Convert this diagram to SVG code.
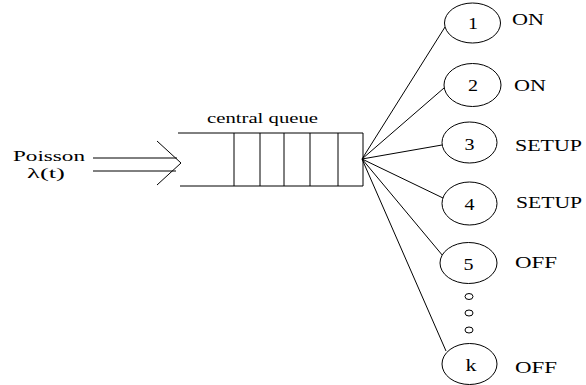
<svg xmlns="http://www.w3.org/2000/svg" width="586" height="385" viewBox="0 0 586 385">
<style>
  .ln { stroke: #000; stroke-width: 1; fill: none; }
  .nd { stroke: #000; stroke-width: 1; fill: #fff; }
  text { font-family: "Times New Roman", "Liberation Serif", Times, serif; font-size: 16px; fill: #000; }
  .d { text-anchor: middle; }
  .s { font-size: 17px; }
</style>
<rect width="586" height="385" fill="#fff"/>
<g id="source">
  <text x="13" y="161" style="font-size:14px" textLength="72" lengthAdjust="spacingAndGlyphs">Poisson</text>
  <text x="27" y="178" style="font-size:14px" textLength="38" lengthAdjust="spacingAndGlyphs">λ(t)</text>
  <line class="ln" x1="93" y1="158" x2="177" y2="158"/>
  <line class="ln" x1="93" y1="171" x2="176" y2="171"/>
  <polyline class="ln" points="157,141 181,163 157,185"/>
</g>
<g id="queue">
  <text x="207" y="123" style="font-size:15px" textLength="111" lengthAdjust="spacingAndGlyphs">central queue</text>
  <line class="ln" x1="178" y1="133" x2="363" y2="133"/>
  <line class="ln" x1="180" y1="186" x2="363" y2="186"/>
  <line class="ln" x1="363" y1="133" x2="363" y2="186"/>
  <line class="ln" x1="234" y1="133" x2="234" y2="186"/>
  <line class="ln" x1="260" y1="133" x2="260" y2="186"/>
  <line class="ln" x1="284" y1="133" x2="284" y2="186"/>
  <line class="ln" x1="310" y1="133" x2="310" y2="186"/>
  <line class="ln" x1="338" y1="133" x2="338" y2="186"/>
</g>
<g id="connectors">
  <line class="ln" x1="362" y1="159" x2="445" y2="27"/>
  <line class="ln" x1="362" y1="159" x2="444" y2="88"/>
  <line class="ln" x1="362" y1="159" x2="442" y2="145"/>
  <line class="ln" x1="362" y1="159" x2="443" y2="198"/>
  <line class="ln" x1="362" y1="159" x2="443" y2="256"/>
  <line class="ln" x1="362" y1="159" x2="446" y2="351"/>
</g>
<g id="server1">
  <ellipse class="nd" cx="472.5" cy="23" rx="28" ry="20"/>
  <text class="d" x="473" y="29" textLength="10" lengthAdjust="spacingAndGlyphs">1</text>
  <text class="s" x="512" y="25" textLength="32" lengthAdjust="spacingAndGlyphs">ON</text>
</g>
<g id="server2">
  <ellipse class="nd" cx="472.5" cy="85" rx="28.5" ry="21.5"/>
  <text class="d" x="473" y="91" textLength="10" lengthAdjust="spacingAndGlyphs">2</text>
  <text class="s" x="514" y="91" textLength="32" lengthAdjust="spacingAndGlyphs">ON</text>
</g>
<g id="server3">
  <ellipse class="nd" cx="469.5" cy="142.5" rx="27.5" ry="20.5"/>
  <text class="d" x="469.5" y="150" textLength="10" lengthAdjust="spacingAndGlyphs">3</text>
  <text class="s" x="515" y="151" textLength="67" lengthAdjust="spacingAndGlyphs">SETUP</text>
</g>
<g id="server4">
  <ellipse class="nd" cx="469.5" cy="203.5" rx="27.5" ry="21.5"/>
  <text class="d" x="469.5" y="210" textLength="10" lengthAdjust="spacingAndGlyphs">4</text>
  <text class="s" x="516" y="208" textLength="66" lengthAdjust="spacingAndGlyphs">SETUP</text>
</g>
<g id="server5">
  <ellipse class="nd" cx="468.5" cy="263" rx="28.5" ry="20.5"/>
  <text class="d" x="468.5" y="270" textLength="10" lengthAdjust="spacingAndGlyphs">5</text>
  <text class="s" x="515" y="268" textLength="42" lengthAdjust="spacingAndGlyphs">OFF</text>
</g>
<g id="ellipsis">
  <ellipse class="ln" cx="469" cy="296.5" rx="4" ry="3"/>
  <ellipse class="ln" cx="469" cy="313" rx="4" ry="3"/>
  <ellipse class="ln" cx="469" cy="330" rx="4" ry="3"/>
</g>
<g id="serverk">
  <ellipse class="nd" cx="469.5" cy="364" rx="27.5" ry="20.5"/>
  <text class="d" x="471" y="371" textLength="11" lengthAdjust="spacingAndGlyphs">k</text>
  <text class="s" x="515" y="373" textLength="42" lengthAdjust="spacingAndGlyphs">OFF</text>
</g>
</svg>
